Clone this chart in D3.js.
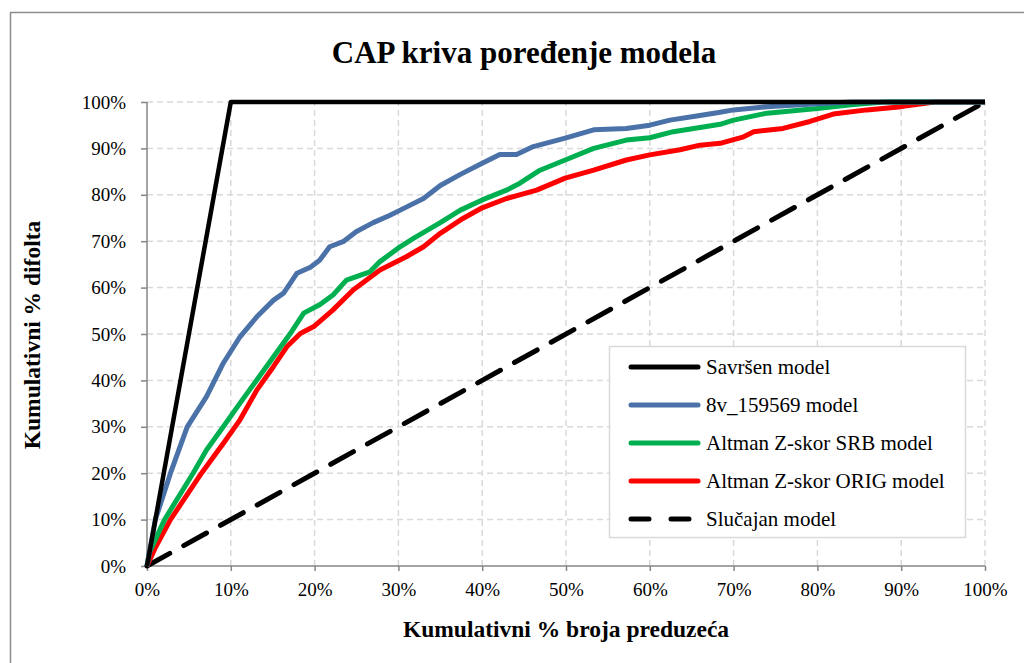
<!DOCTYPE html>
<html>
<head>
<meta charset="utf-8">
<script src="https://cdn.jsdelivr.net/npm/d3@7"></script>
<style>
  body { margin: 0; background: #fff; }
  svg text { font-family: "Liberation Serif", "Times New Roman", serif; }
</style>
</head>
<body>
<div id="chart"></div>
<script>
// values, [x %, y %]
var perfectModel = [[0, 0], [10, 100], [100, 100]];
var model8v = [[0,0],[1,10],[2.8,20],[4.8,30],[7.1,36.5],[9.1,43.7],[11.1,49.4],[13.1,53.7],[15.1,57.3],[16.3,58.8],[17.9,63.1],[19.5,64.4],[20.6,65.9],[21.8,68.8],[23.4,69.9],[25,72.1],[27,74],[29,75.6],[31,77.4],[33,79.2],[35,82],[37.4,84.4],[40,86.8],[42.1,88.7],[44.1,88.7],[46.1,90.4],[49.9,92.2],[53.3,94],[57.2,94.3],[60,95],[62.4,96.1],[65.6,97],[68.4,97.8],[70,98.3],[74,99],[80,99.6],[84,100],[100,100]];
var modelSRB = [[0,0],[0.3,3],[2.1,10],[5.5,20],[7.1,25],[9.1,30],[11.1,35.1],[13.1,40.1],[15.1,45.1],[17.1,50.1],[18.7,54.5],[20.6,56.3],[22.2,58.4],[23.8,61.6],[26.6,63.4],[27.8,65.6],[30.2,68.8],[31.8,70.6],[35,74],[37.4,76.7],[40,78.9],[42.9,81],[44.5,82.5],[46.9,85.3],[49.9,87.5],[53.3,90],[57.2,91.8],[60,92.3],[62.8,93.6],[66,94.5],[68.4,95.2],[70,96.1],[74,97.6],[80,98.6],[84,99.4],[88,100],[100,100]];
var modelORIG = [[0,0],[1,4],[2.8,10],[6.5,20],[9.1,26.4],[11.1,31.5],[13.1,37.9],[15.1,43],[16.7,47.3],[18.3,50.1],[19.9,51.6],[22.2,55.2],[24.6,59.5],[27.8,63.8],[31,66.7],[33,68.8],[35,71.7],[37.7,74.9],[40,77.2],[42.9,79.2],[46.5,81],[49.9,83.6],[53.3,85.3],[57.2,87.5],[60,88.6],[63.6,89.7],[66,90.7],[68.4,91.1],[71.2,92.5],[72.4,93.6],[75.9,94.3],[79.1,95.8],[81.9,97.4],[85.9,98.3],[90,99],[94,100],[100,100]];
var randomModel = [[0, 0], [100, 100]];

var seriesNames = ["Savršen model", "8v_159569 model", "Altman Z-skor SRB model", "Altman Z-skor ORIG model", "Slučajan model"];
var seriesColors = ["#000000", "#4a72a8", "#00b050", "#ff0000", "#000000"];
var tickValues = [0, 10, 20, 30, 40, 50, 60, 70, 80, 90, 100];

var w = 1024, h = 663;
var svg = d3.select("#chart").append("svg")
    .attr("width", w)
    .attr("height", h);

// outer frame
svg.append("rect")
    .attr("x", 10.5).attr("y", 12.5)
    .attr("width", 1030).attr("height", 700)
    .style("fill", "none").style("stroke", "#8c8c8c").style("stroke-width", 1.5);

var x = d3.scaleLinear().domain([0, 100]).range([147, 985]);
var y = d3.scaleLinear().domain([0, 100]).range([566, 102]);

// gridlines
svg.append("g").selectAll("line.h")
    .data(tickValues.slice(1))
    .enter().append("line")
    .attr("x1", x(0)).attr("x2", x(100))
    .attr("y1", function(d){ return y(d); })
    .attr("y2", function(d){ return y(d); })
    .style("stroke", "#d9d9d9").style("stroke-width", 1.5).style("stroke-dasharray", "6,4");
svg.append("g").selectAll("line.v")
    .data(tickValues.slice(1))
    .enter().append("line")
    .attr("y1", y(0)).attr("y2", y(100))
    .attr("x1", function(d){ return x(d); })
    .attr("x2", function(d){ return x(d); })
    .style("stroke", "#d9d9d9").style("stroke-width", 1.5).style("stroke-dasharray", "6,4");

// axes
var yAxis = d3.axisLeft(y).tickValues(tickValues).tickSize(6).tickPadding(15)
    .tickFormat(function(d){ return d + "%"; });
var xAxis = d3.axisBottom(x).tickValues(tickValues).tickSize(5).tickPadding(12)
    .tickFormat(function(d){ return d + "%"; });

var gy = svg.append("g").attr("transform", "translate(" + x(0) + ",0)").call(yAxis);
var gx = svg.append("g").attr("transform", "translate(0," + y(0) + ")").call(xAxis);
[gx, gy].forEach(function(g){
  g.selectAll("path, line").style("stroke", "#868686").style("stroke-width", 1.5);
  g.selectAll("path").attr("d", g === gx ? "M" + x(0) + ",0H" + x(100) : "M0," + y(0) + "V" + y(100));
  g.selectAll("text").style("font-size", "19px").style("fill", "#000")
    .style("font-family", "'Liberation Serif', serif");
});

// lines
var line = d3.line()
    .x(function(d){ return x(d[0]); })
    .y(function(d){ return y(d[1]); });

var allSeries = [perfectModel, model8v, modelSRB, modelORIG, randomModel];
var widths = [4.5, 5, 5, 5, 5];

svg.append("path").datum(randomModel)
    .attr("d", line)
    .style("fill", "none").style("stroke", "#000").style("stroke-width", 5)
    .style("stroke-dasharray", "26,16").style("stroke-linecap", "round");

[3, 2, 1, 0].forEach(function(i){
  svg.append("path").datum(allSeries[i])
      .attr("d", line)
      .style("fill", "none")
      .style("stroke", seriesColors[i])
      .style("stroke-width", widths[i])
      .style("stroke-linejoin", "round");
});

// legend
var legend = svg.append("g");
legend.append("rect")
    .attr("x", 609.5).attr("y", 346.5).attr("width", 356).attr("height", 191)
    .style("fill", "#fff").style("stroke", "#d9d9d9").style("stroke-width", 1.5);

var rows = legend.selectAll("g.row")
    .data(seriesNames)
    .enter().append("g")
    .attr("transform", function(d, i){ return "translate(0," + (367 + i * 38) + ")"; });

rows.append("line")
    .attr("x1", 631).attr("x2", 698).attr("y1", 0).attr("y2", 0)
    .style("stroke", function(d, i){ return seriesColors[i]; })
    .style("stroke-width", 5)
    .style("stroke-linecap", "round")
    .style("stroke-dasharray", function(d, i){ return i === 4 ? "18,22" : null; });

rows.append("text")
    .attr("x", 706).attr("y", 7)
    .text(function(d){ return d; })
    .style("font-size", "21px");

// title and axis titles
svg.append("text")
    .text("CAP kriva poređenje modela")
    .attr("x", 524).attr("y", 63)
    .style("text-anchor", "middle")
    .style("font-size", "31px")
    .style("font-weight", "bold");

svg.append("text")
    .text("Kumulativni % broja preduzeća")
    .attr("x", 566).attr("y", 637)
    .style("text-anchor", "middle")
    .style("font-size", "23.5px")
    .style("font-weight", "bold");

svg.append("text")
    .text("Kumulativni % difolta")
    .attr("transform", "translate(40,335) rotate(-90)")
    .style("text-anchor", "middle")
    .style("font-size", "23.5px")
    .style("font-weight", "bold");
</script>
</body>
</html>
